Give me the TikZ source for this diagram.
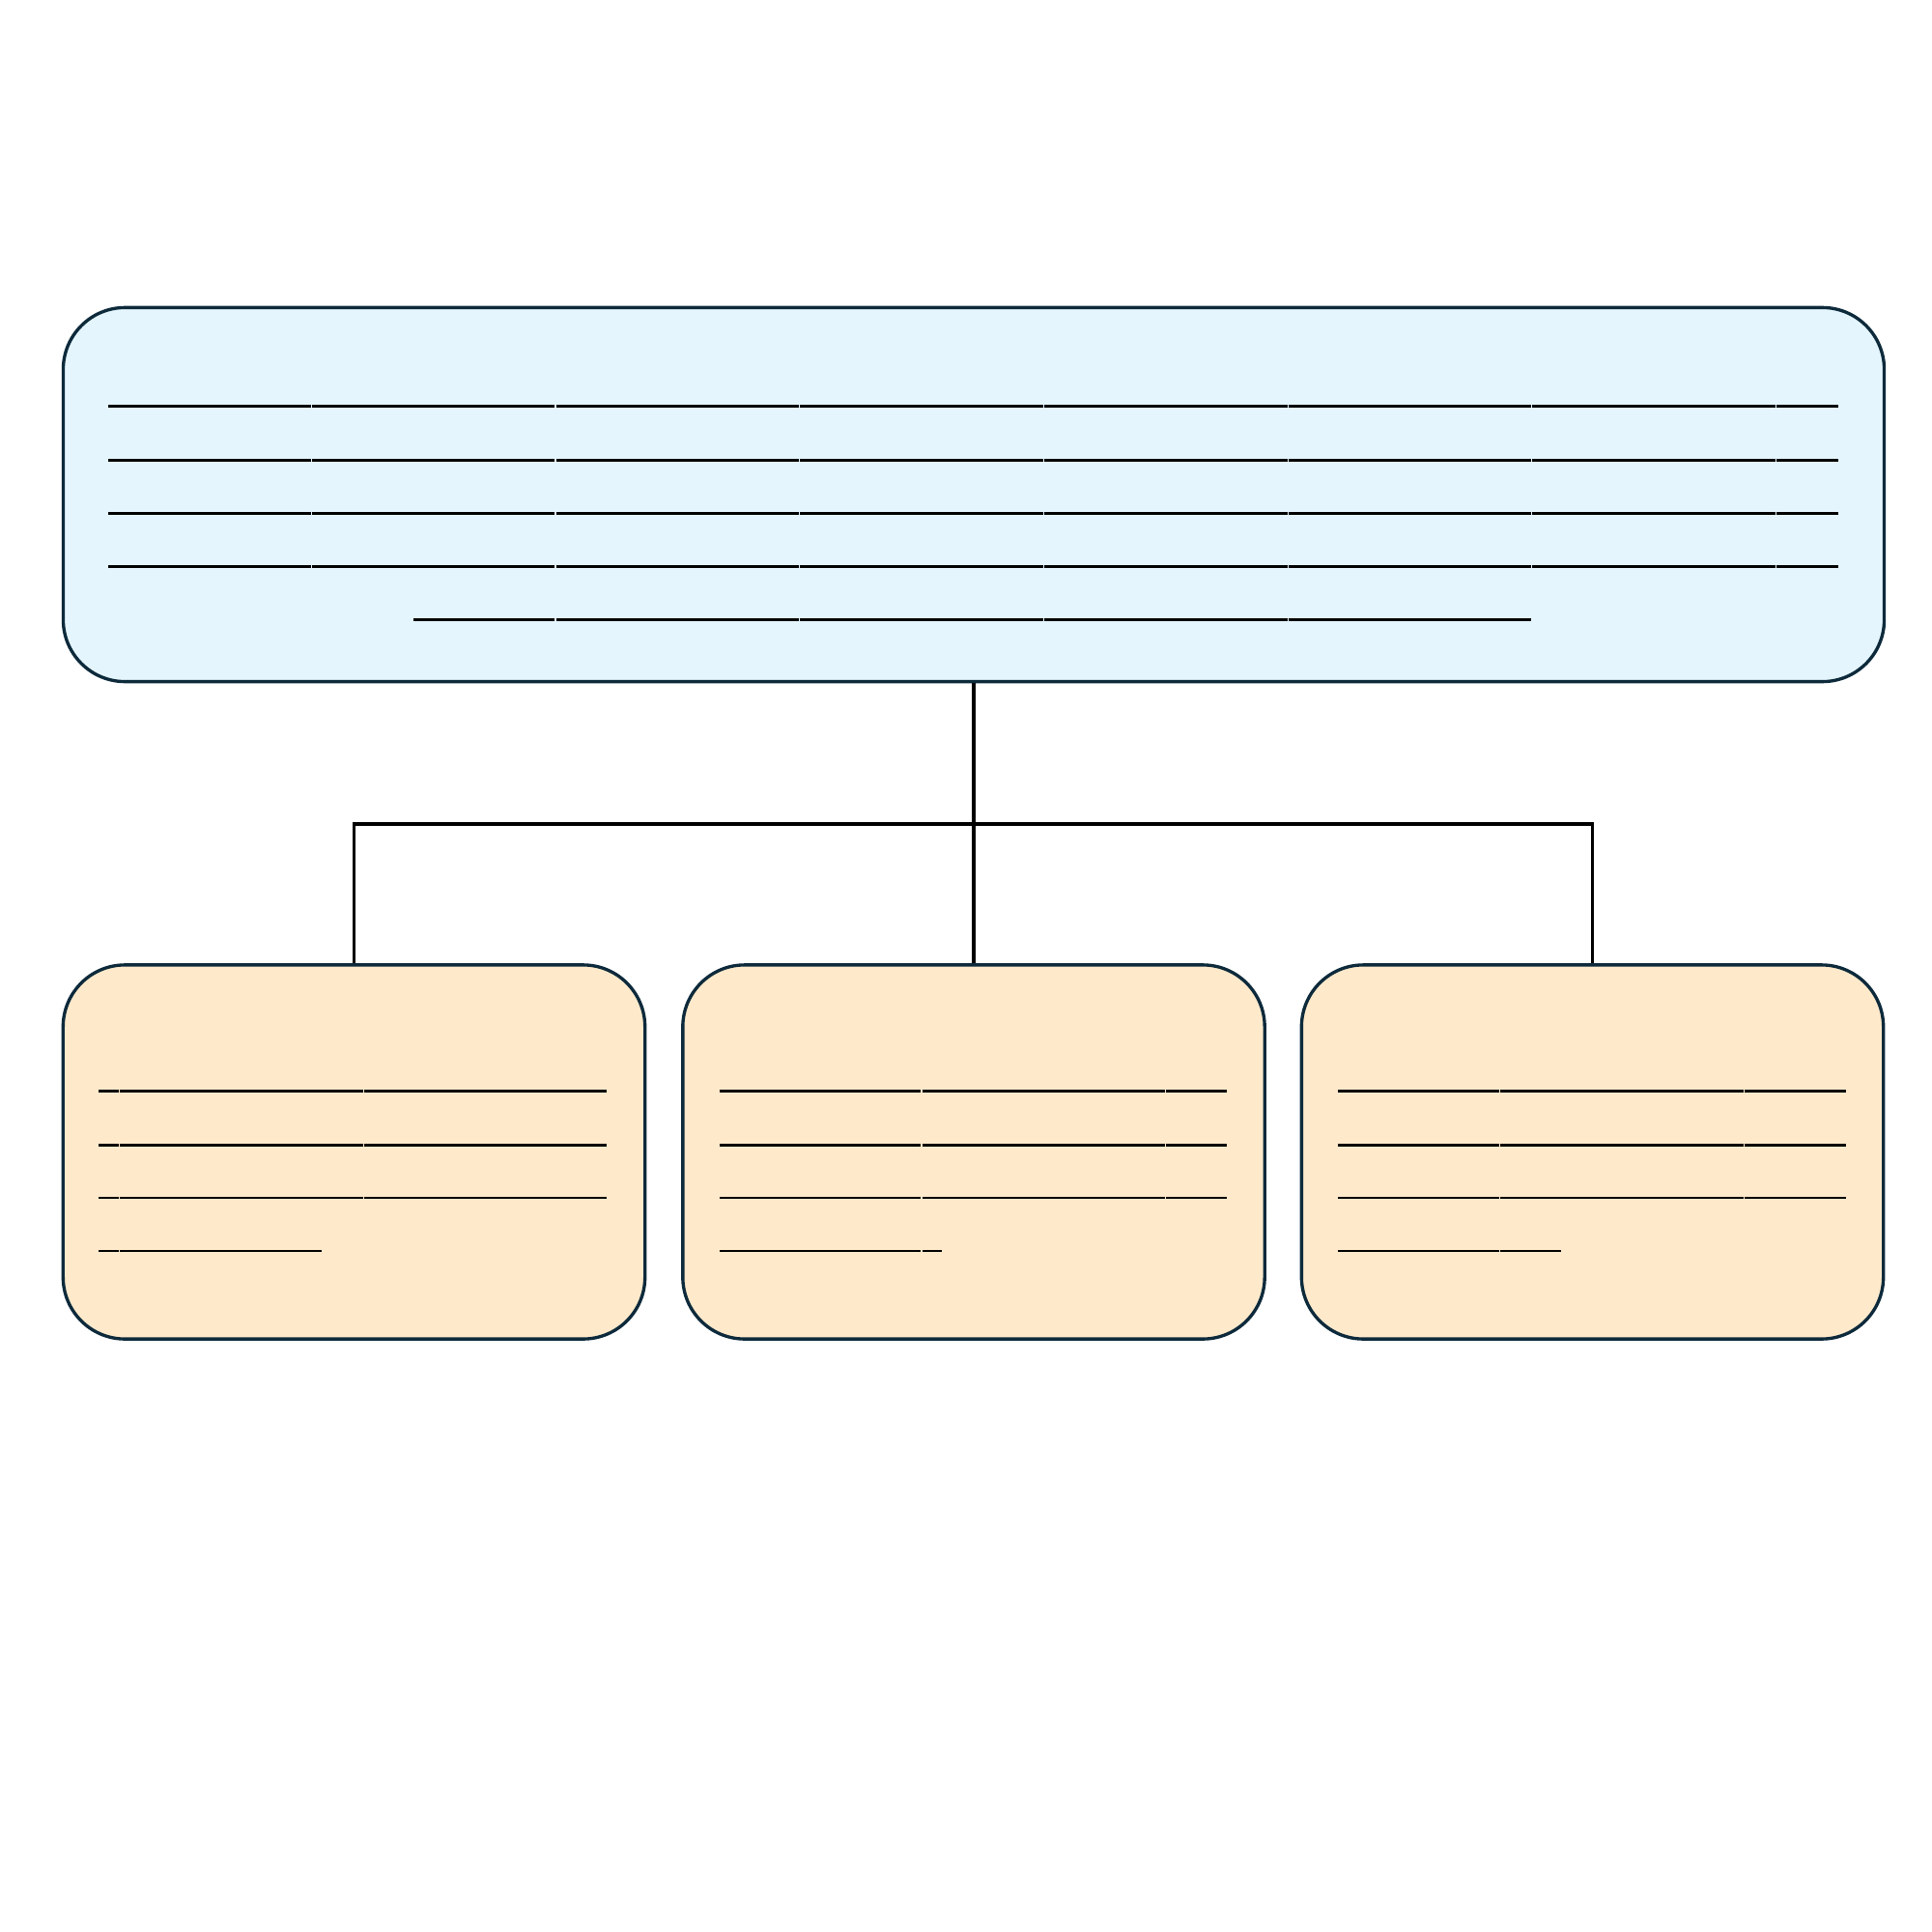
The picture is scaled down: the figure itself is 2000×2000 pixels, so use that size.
\documentclass[tikz,border=0pt]{standalone}
\usepackage{tikz}
\definecolor{topfill}{HTML}{E4F5FD}
\definecolor{subfill}{HTML}{FEE9CB}
\definecolor{edge}{HTML}{0D2A3B}
\tikzset{
  boxbase/.style={draw=edge, line width=0.95pt, rounded corners=0.64cm, inner sep=0pt, minimum height=3.87cm},
  topbox/.style={boxbase, fill=topfill, minimum width=18.84cm},
  subbox/.style={boxbase, fill=subfill, minimum width=6.02cm},
  link/.style={draw=black, line width=0.9pt},
  txtline/.style={draw=black, line width=0.72pt}
}
\newcommand{\segrow}[2]{%
  \foreach \a/\b in {#2} {\draw[txtline] ({\a+0.6},#1) -- ({\b-0.6},#1);}%
}
\begin{document}
\begin{tikzpicture}[x=0.01cm, y=-0.01cm]
\useasboundingbox (0,0) rectangle (2000,2000);
\node[topbox] (top) at (1008,512) {};
\node[subbox] (b1) at (366.5,1192.5) {};
\node[subbox] (b2) at (1008,1192.5) {};
\node[subbox] (b3) at (1648.5,1192.5) {};
\coordinate (bus) at (1008,853);
\draw[link] (top.south) -- (b2.north);
\draw[link] (b1.north) -- (b1.north |- bus) -- (b3.north |- bus) -- (b3.north);
% top box placeholder lines
\foreach \yy in {420.7,476.7,531.7,586.7} {
  \segrow{\yy}{111.7/322.3,322.3/575,575/827.7,827.7/1080.4,1080.4/1333.1,1333.1/1585.8,1585.8/1838.5,1838.5/1903.3}
}
\segrow{641.7}{427.7/575,575/827.7,827.7/1080.4,1080.4/1333.1,1333.1/1585.8}
% box 1
\foreach \yy in {1129.3,1185.3,1240} {
  \segrow{\yy}{101.7/123.3,123.3/376.3,376.3/629}
}
\segrow{1295}{101.7/123.3,123.3/334}
% box 2
\foreach \yy in {1129.3,1185.3,1240} {
  \segrow{\yy}{744/954,954/1206.7,1206.7/1270.3}
}
\segrow{1295}{744/954,954/976}
% box 3
\foreach \yy in {1129.3,1185.3,1240} {
  \segrow{\yy}{1384.5/1552.3,1552.3/1805.3,1805.3/1911.3}
}
\segrow{1295}{1384.5/1552.3,1552.3/1616.3}
\end{tikzpicture}
\end{document}
